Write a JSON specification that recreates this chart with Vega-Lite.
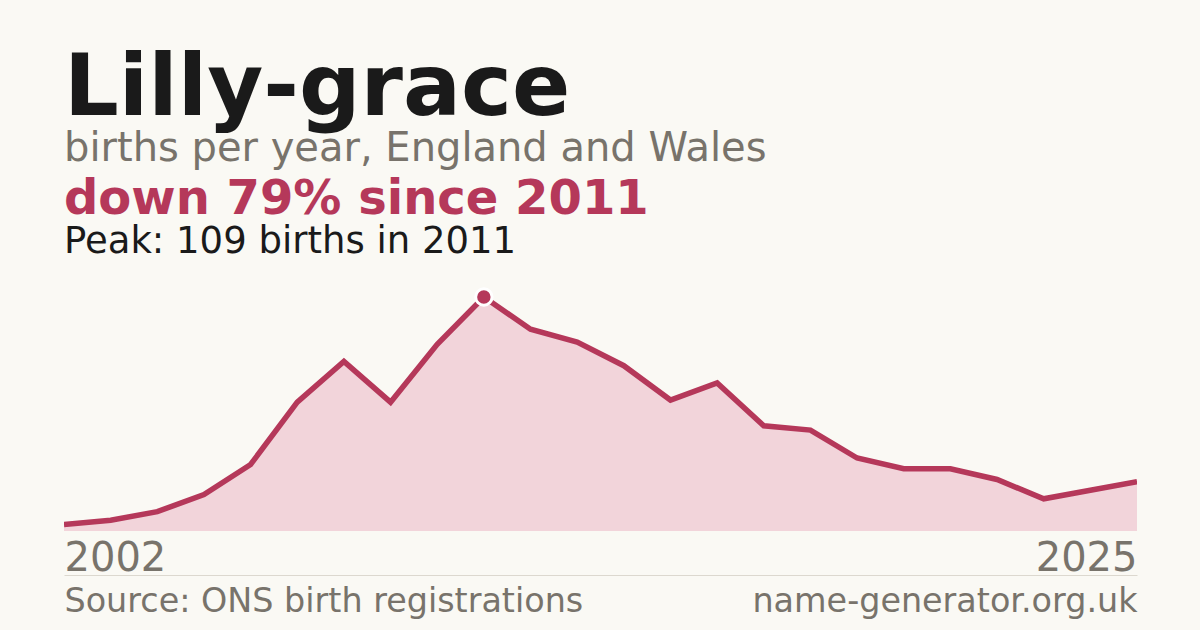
{
  "$schema": "https://vega.github.io/schema/vega-lite/v6.json",
  "description": "Lilly-grace births per year, England and Wales",
  "background": "#faf9f4",
  "padding": {"top": 45, "left": 64, "right": 63, "bottom": 12},
  "title": {
    "text": "Lilly-grace",
    "subtitle": "births per year, England and Wales",
    "anchor": "start",
    "frame": "group",
    "font": "DejaVu Sans",
    "fontSize": 86,
    "fontWeight": "bold",
    "color": "#1a1a1a",
    "subtitleFont": "DejaVu Sans",
    "subtitleFontSize": 40,
    "subtitleColor": "#78736b",
    "subtitlePadding": -4,
    "offset": 6
  },
  "vconcat": [
    {
      "width": 1073,
      "height": 234,
      "title": {
        "text": "down 79% since 2011",
        "subtitle": "Peak: 109 births in 2011",
        "anchor": "start",
        "frame": "group",
        "font": "DejaVu Sans",
        "fontSize": 48,
        "fontWeight": "bold",
        "color": "#b5385a",
        "subtitleFont": "DejaVu Sans",
        "subtitleFontSize": 37,
        "subtitleColor": "#1a1a1a",
        "subtitlePadding": 0,
        "offset": 23
      },
      "layer": [
        {
          "data": {
            "values": [
              {"year": 2002, "births": 3},
              {"year": 2003, "births": 5},
              {"year": 2004, "births": 9},
              {"year": 2005, "births": 17},
              {"year": 2006, "births": 31},
              {"year": 2007, "births": 60},
              {"year": 2008, "births": 79},
              {"year": 2009, "births": 60},
              {"year": 2010, "births": 87},
              {"year": 2011, "births": 109},
              {"year": 2012, "births": 94},
              {"year": 2013, "births": 88},
              {"year": 2014, "births": 77},
              {"year": 2015, "births": 61},
              {"year": 2016, "births": 69},
              {"year": 2017, "births": 49},
              {"year": 2018, "births": 47},
              {"year": 2019, "births": 34},
              {"year": 2020, "births": 29},
              {"year": 2021, "births": 29},
              {"year": 2022, "births": 24},
              {"year": 2023, "births": 15},
              {"year": 2024, "births": 19},
              {"year": 2025, "births": 23}
            ]
          },
          "encoding": {
            "x": {
              "field": "year",
              "type": "quantitative",
              "scale": {"domain": [2002, 2025], "nice": false, "zero": false},
              "axis": {
                "orient": "bottom",
                "values": [2002, 2025],
                "format": "d",
                "title": null,
                "grid": false,
                "domain": false,
                "ticks": false,
                "labelFlush": true,
                "labelFont": "DejaVu Sans",
                "labelFontSize": 40,
                "labelColor": "#78736b",
                "labelPadding": 7
              }
            },
            "y": {
              "field": "births",
              "type": "quantitative",
              "scale": {"domain": [0, 109], "nice": false},
              "axis": null
            }
          },
          "layer": [
            {"mark": {"type": "area", "color": "#f2d4da", "opacity": 1}},
            {"mark": {"type": "line", "color": "#b5385a", "strokeWidth": 5.5, "clip": true}},
            {
              "transform": [{"filter": "datum.year == 2011"}],
              "mark": {"type": "point", "filled": true, "size": 270, "color": "#b5385a", "stroke": "#ffffff", "strokeWidth": 3, "opacity": 1}
            }
          ]
        },
        {
          "data": {
            "values": [
              {"label": "Source: ONS birth registrations"},
              {"label": "name-generator.org.uk"}
            ]
          },
          "mark": {"type": "point", "size": 0, "opacity": 0},
          "encoding": {
            "x": {
              "field": "label",
              "type": "nominal",
              "sort": null,
              "scale": {"type": "point", "padding": 0},
              "axis": {
                "orient": "bottom",
                "offset": 44,
                "title": null,
                "grid": false,
                "ticks": false,
                "domain": true,
                "domainColor": "#dcd8cf",
                "domainWidth": 1,
                "labelAngle": 0,
                "labelFlush": true,
                "labelOverlap": false,
                "labelLimit": 1000,
                "labelFont": "DejaVu Sans",
                "labelFontSize": 33.4,
                "labelColor": "#78736b",
                "labelPadding": 10
              }
            }
          }
        }
      ],
      "resolve": {"scale": {"x": "independent"}, "axis": {"x": "independent"}}
    }
  ],
  "config": {
    "view": {"stroke": null},
    "font": "DejaVu Sans"
  }
}
